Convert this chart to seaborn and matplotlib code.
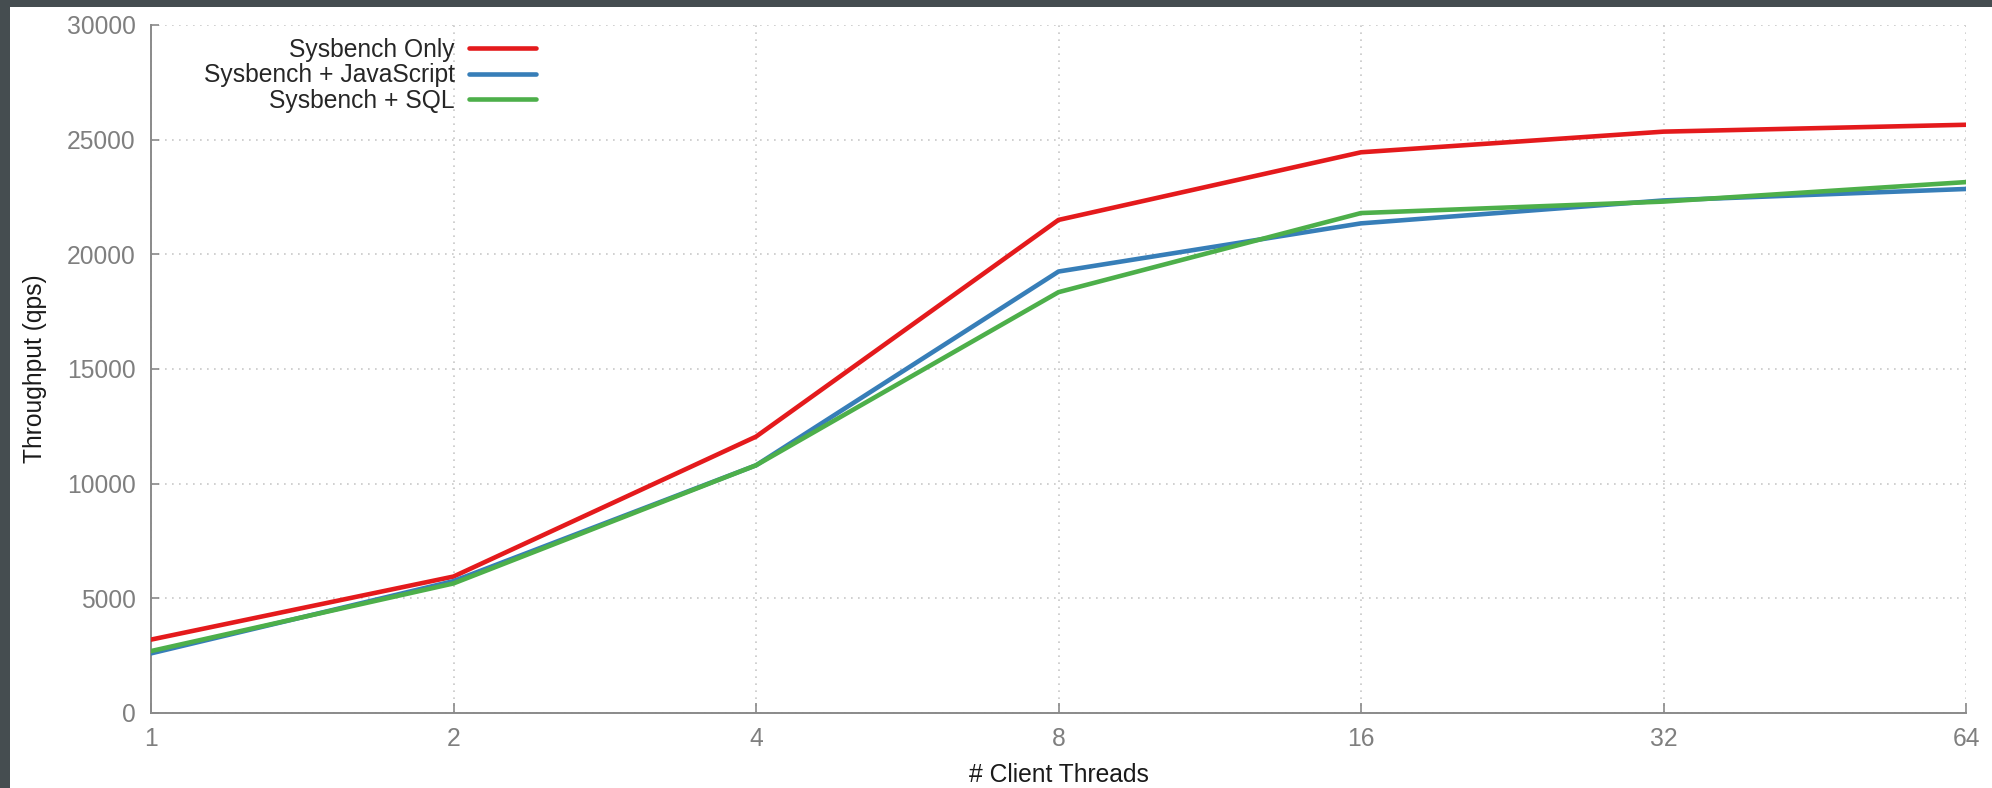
import matplotlib
matplotlib.use('Agg')
import numpy as np
import pandas as pd
import matplotlib.pyplot as plt
from matplotlib.patches import Rectangle
import seaborn as sns

# values
threads = [1, 2, 4, 8, 16, 32, 64]
sysbench_only = [3200, 5950, 12050, 21500, 24450, 25350, 25650]
sysbench_js = [2600, 5750, 10800, 19250, 21350, 22350, 22850]
sysbench_sql = [2700, 5650, 10800, 18350, 21800, 22300, 23150]
series_names = ['Sysbench Only', 'Sysbench + JavaScript', 'Sysbench + SQL']
y_ticks = [0, 5000, 10000, 15000, 20000, 25000, 30000]

sns.set_theme(style='white')
plt.rcParams['font.family'] = ['Liberation Sans', 'DejaVu Sans']

df = pd.DataFrame({
    'threads': threads * 3,
    'qps': sysbench_only + sysbench_js + sysbench_sql,
    'series': [series_names[0]] * 7 + [series_names[1]] * 7 + [series_names[2]] * 7,
})

palette = dict(zip(series_names, ['#e41a1c', '#377eb8', '#4daf4a']))

fig = plt.figure(figsize=(19.92, 7.88), dpi=100, facecolor='white')
# dark screenshot frame on the left and top edges
frame = '#454d50'
fig.patches.append(Rectangle((0, 0), 10 / 1992, 1, transform=fig.transFigure,
                             facecolor=frame, edgecolor='none', zorder=-1))
fig.patches.append(Rectangle((0, 1 - 7 / 788), 1, 7 / 788, transform=fig.transFigure,
                             facecolor=frame, edgecolor='none', zorder=-1))
ax = fig.add_axes([151 / 1992, 1 - 713 / 788, 1815 / 1992, 688 / 788])
ax.set_facecolor('white')

sns.lineplot(data=df, x='threads', y='qps', hue='series', hue_order=series_names,
             palette=palette, linewidth=3.3, ax=ax, zorder=3)

ax.set_xscale('log', base=2)
ax.set_xlim(1, 64)
ax.set_xticks(threads)
ax.set_xticklabels([str(t) for t in threads])
ax.minorticks_off()
ax.set_ylim(0, 30000)
ax.set_yticks(y_ticks)

grid_style = dict(color='#c8c8c8', linewidth=1.2, linestyle=(0, (1, 3.2)))
ax.grid(True, axis='both', **grid_style)

for side in ['top', 'right']:
    ax.spines[side].set_visible(False)
for side in ['left', 'bottom']:
    ax.spines[side].set_color('#8a8a8a')
    ax.spines[side].set_linewidth(1.4)

fs = 17.7
ax.tick_params(axis='x', direction='in', length=7.5, width=1.2, color='#8a8a8a',
               labelsize=fs, labelcolor='#7f7f7f', pad=10, bottom=True)
ax.tick_params(axis='y', direction='in', length=5.5, width=1.2, color='#8a8a8a',
               labelsize=fs, labelcolor='#7f7f7f', pad=11, left=True)

ax.set_xlabel('# Client Threads', fontsize=fs, color='#1a1a1a', labelpad=9)
ax.set_ylabel('Throughput (qps)', fontsize=fs, color='#1a1a1a', labelpad=14)

handles, labels = ax.get_legend_handles_labels()
leg = ax.legend(handles, labels, loc='upper right', bbox_to_anchor=(0.212, 0.981),
                frameon=False, markerfirst=False, fontsize=fs, handlelength=2.7,
                handletextpad=0.6, labelspacing=0.05, borderpad=0, borderaxespad=0)
for line in leg.get_lines():
    line.set_linewidth(3.3)

fig.savefig('out.png', dpi=100, facecolor=fig.get_facecolor())
